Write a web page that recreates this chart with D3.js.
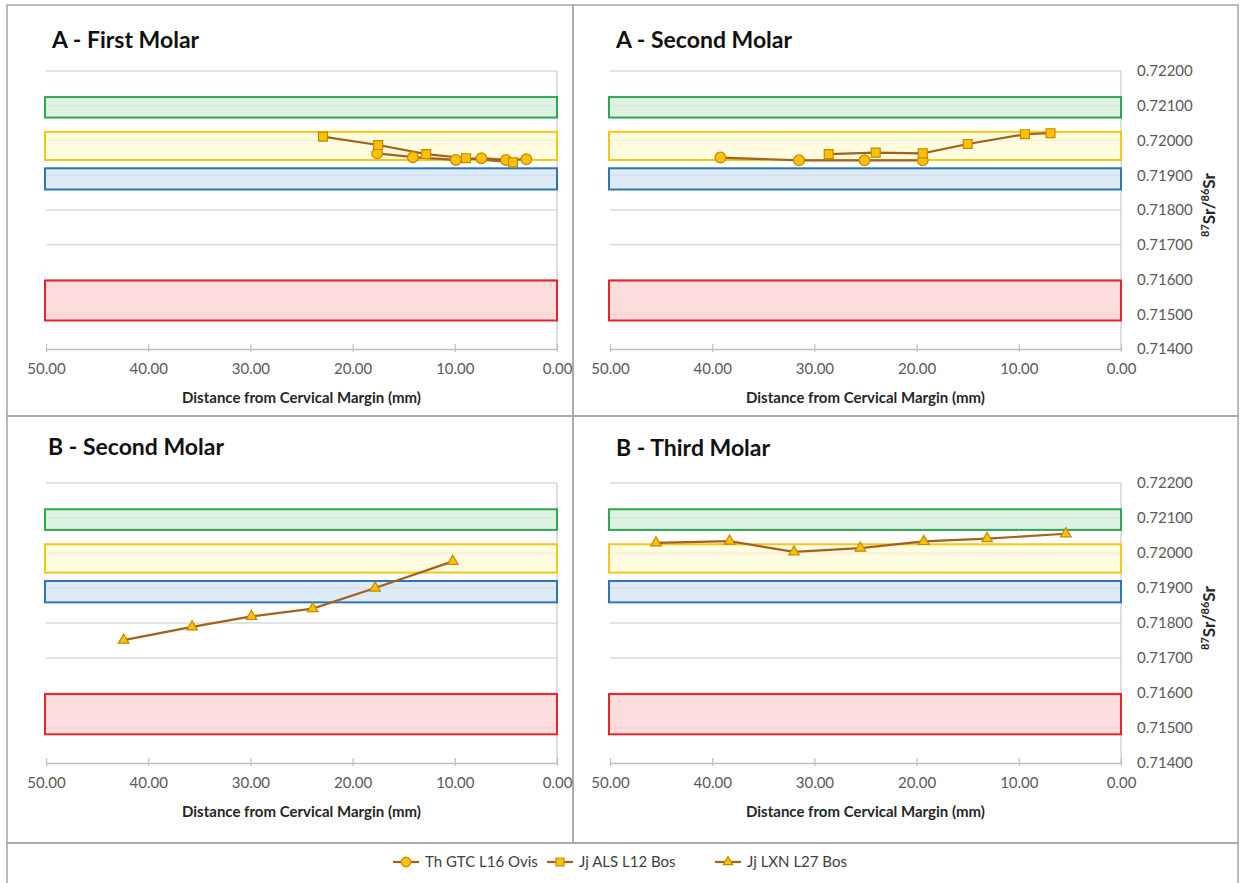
<!DOCTYPE html>
<html>
<head>
<meta charset="utf-8">
<script src="https://cdn.jsdelivr.net/npm/d3@7"></script>
<style>
  html, body { margin: 0; padding: 0; background: #ffffff; }
  svg { display: block; }
</style>
</head>
<body>
<svg id="chart" width="1241" height="883"></svg>
<script>
// ---------------- DATA ----------------
const panelTitles = ["A - First Molar", "A - Second Molar", "B - Second Molar", "B - Third Molar"];
const xTickValues = [50, 40, 30, 20, 10, 0];
const yTickValues = [0.714, 0.715, 0.716, 0.717, 0.718, 0.719, 0.720, 0.721, 0.722];
const xAxisTitle = "Distance from Cervical Margin (mm)";
const seriesNames = ["Th GTC L16 Ovis", "Jj ALS L12 Bos", "Jj LXN L27 Bos"];

// reference bands (low, high)
const bandGreen  = [0.72066, 0.72125];
const bandYellow = [0.71944, 0.72025];
const bandBlue   = [0.71859, 0.71920];
const bandRed    = [0.71482, 0.71597];

// A - First Molar
const firstMolarA_Ovis = [[17.6, 0.71963], [14.1, 0.71952], [9.9, 0.71944], [7.4, 0.71949], [5.0, 0.71944], [3.0, 0.71946]];
const firstMolarA_Bos  = [[22.9, 0.72011], [17.5, 0.71987], [12.8, 0.71961], [8.9, 0.71949], [4.3, 0.71937]];
// A - Second Molar
const secondMolarA_Ovis = [[39.2, 0.71951], [31.5, 0.71943], [25.1, 0.71943], [19.4, 0.71943]];
const secondMolarA_Bos  = [[28.6, 0.71961], [24.0, 0.71965], [19.4, 0.71963], [15.0, 0.71990], [9.4, 0.72018], [6.9, 0.72021]];
// B - Second Molar
const secondMolarB_Bos = [[42.4, 0.71751], [35.7, 0.71789], [29.9, 0.71819], [23.9, 0.71841], [17.8, 0.71900], [10.2, 0.71976]];
// B - Third Molar
const thirdMolarB_Bos = [[45.5, 0.72029], [38.3, 0.72034], [32.0, 0.72003], [25.5, 0.72014], [19.3, 0.72033], [13.1, 0.72041], [5.4, 0.72055]];

// ---------------- STYLE / LAYOUT ----------------
const FONT = "Lato, 'Open Sans', sans-serif";
const lineColor = "#a2611c";
const markerFill = "#ffc000";
const markerStroke = "#c08a00";
const bandStyles = [
  { band: bandGreen,  stroke: "#2fa650", fill: "#d3eedb" },
  { band: bandYellow, stroke: "#f6c518", fill: "#fffbd6" },
  { band: bandBlue,   stroke: "#2e75b6", fill: "#d3e3f3" },
  { band: bandRed,    stroke: "#e5262b", fill: "#fbd2d2" }
];
const markerTypes = [d3.symbolCircle, d3.symbolSquare, d3.symbolTriangle];
const markerSizes = [90, 80, 48];

const panels = [
  { title: panelTitles[0], left: 46, right: 557, top: 71, bottom: 349, titleX: 52, titleY: 48, yLabels: false,
    series: [{ data: firstMolarA_Ovis, type: 0 }, { data: firstMolarA_Bos, type: 1 }] },
  { title: panelTitles[1], left: 610, right: 1121, top: 71, bottom: 349, titleX: 616, titleY: 48, yLabels: true,
    series: [{ data: secondMolarA_Ovis, type: 0 }, { data: secondMolarA_Bos, type: 1 }] },
  { title: panelTitles[2], left: 46, right: 557, top: 483, bottom: 763, titleX: 48, titleY: 455, yLabels: false,
    series: [{ data: secondMolarB_Bos, type: 2 }] },
  { title: panelTitles[3], left: 610, right: 1121, top: 483, bottom: 763, titleX: 616, titleY: 456, yLabels: true,
    series: [{ data: thirdMolarB_Bos, type: 2 }] }
];

const svg = d3.select("#chart");
svg.append("rect").attr("x", 0).attr("y", 0).attr("width", 1241).attr("height", 883).attr("fill", "#ffffff");

// frame cells
const frameColor = "#a6a6a6";
const cells = [[7, 5, 573, 416], [573, 5, 1238, 416], [7, 416, 573, 843], [573, 416, 1238, 843], [7, 843, 1238, 884]];
cells.forEach(c => {
  svg.append("rect").attr("x", c[0]).attr("y", c[1]).attr("width", c[2] - c[0]).attr("height", c[3] - c[1])
    .attr("fill", "none").attr("stroke", frameColor).attr("stroke-width", 1.5);
});

panels.forEach(p => {
  const g = svg.append("g");
  const x = d3.scaleLinear().domain([50, 0]).range([p.left, p.right]);
  const y = d3.scaleLinear().domain([0.714, 0.722]).range([p.bottom, p.top]);

  // title
  g.append("text").attr("x", p.titleX).attr("y", p.titleY).text(p.title)
    .attr("font-family", FONT).attr("font-weight", "bold").attr("font-size", 23).attr("fill", "#111");

  // gridlines
  g.selectAll(".grid").data(yTickValues.slice(1)).enter().append("line")
    .attr("x1", x(50)).attr("x2", x(0)).attr("y1", d => y(d)).attr("y2", d => y(d))
    .attr("stroke", "#c8c8c8").attr("stroke-width", 1.2);

  // right vertical axis line
  g.append("line").attr("x1", x(0)).attr("x2", x(0)).attr("y1", y(0.722)).attr("y2", y(0.714))
    .attr("stroke", "#c8c8c8").attr("stroke-width", 1.2);

  // x axis
  const xAxis = d3.axisBottom(x).tickValues(xTickValues).tickFormat(d3.format(".2f")).tickSizeInner(-5).tickSizeOuter(0).tickPadding(14);
  const ax = g.append("g").attr("transform", `translate(0,${y(0.714)})`).call(xAxis);
  ax.select(".domain").attr("stroke", "#bfbfbf").attr("stroke-width", 1.5);
  ax.selectAll(".tick line").attr("stroke", "#bfbfbf").attr("stroke-width", 1.2).attr("y1", 3);
  ax.selectAll(".tick text").attr("font-family", FONT).attr("font-size", 15).attr("fill", "#595959");

  g.append("text").attr("x", (x(50) + x(0)) / 2).attr("y", y(0.714) + 54).attr("text-anchor", "middle")
    .text(xAxisTitle).attr("font-family", FONT).attr("font-weight", "bold").attr("font-size", 15).attr("fill", "#262626");

  // y axis labels
  if (p.yLabels) {
    const yAxis = d3.axisRight(y).tickValues(yTickValues).tickFormat(d3.format(".5f")).tickSize(0).tickPadding(16);
    const ay = g.append("g").attr("transform", `translate(${x(0)},0)`).call(yAxis);
    ay.select(".domain").remove();
    ay.selectAll(".tick text").attr("font-family", FONT).attr("font-size", 15).attr("fill", "#595959");
    const ty = g.append("text").attr("transform", `translate(${x(0) + 94},${(y(0.722) + y(0.714)) / 2 - 5}) rotate(-90)`)
      .attr("text-anchor", "middle").attr("font-family", FONT).attr("font-weight", "bold").attr("font-size", 17).attr("fill", "#262626");
    ty.append("tspan").attr("baseline-shift", "super").attr("font-size", 11).text("87");
    ty.append("tspan").text("Sr/");
    ty.append("tspan").attr("baseline-shift", "super").attr("font-size", 11).text("86");
    ty.append("tspan").text("Sr");
  }

  // bands
  bandStyles.forEach(b => {
    g.append("rect").attr("x", x(50) - 1).attr("width", x(0) - x(50) + 1)
      .attr("y", y(b.band[1])).attr("height", y(b.band[0]) - y(b.band[1]))
      .attr("fill", b.fill).attr("fill-opacity", 0.75).attr("stroke", b.stroke).attr("stroke-width", 2);
  });

  // series
  const line = d3.line().x(d => x(d[0])).y(d => y(d[1]));
  p.series.forEach(s => {
    g.append("path").datum(s.data).attr("d", line).attr("fill", "none").attr("stroke", lineColor).attr("stroke-width", 2.2);
  });
  p.series.forEach(s => {
    g.selectAll(null).data(s.data).enter().append("path")
      .attr("transform", d => `translate(${x(d[0])},${y(d[1])})`)
      .attr("d", d3.symbol().type(markerTypes[s.type]).size(markerSizes[s.type]))
      .attr("fill", markerFill).attr("stroke", markerStroke).attr("stroke-width", 1.2);
  });
});

// legend
const legendY = 862;
const legendItems = [
  { name: seriesNames[0], type: 0, x: 393 },
  { name: seriesNames[1], type: 1, x: 547 },
  { name: seriesNames[2], type: 2, x: 715 }
];
legendItems.forEach(it => {
  const g = svg.append("g").attr("transform", `translate(${it.x},${legendY})`);
  g.append("line").attr("x1", 0).attr("x2", 26).attr("y1", 0).attr("y2", 0).attr("stroke", lineColor).attr("stroke-width", 2.2);
  g.append("path").attr("transform", "translate(13,0)")
    .attr("d", d3.symbol().type(markerTypes[it.type]).size(markerSizes[it.type] * 0.8))
    .attr("fill", markerFill).attr("stroke", markerStroke).attr("stroke-width", 1.2);
  g.append("text").attr("x", 32).attr("y", 5).text(it.name)
    .attr("font-family", FONT).attr("font-size", 15).attr("fill", "#404040");
});
</script>
</body>
</html>
